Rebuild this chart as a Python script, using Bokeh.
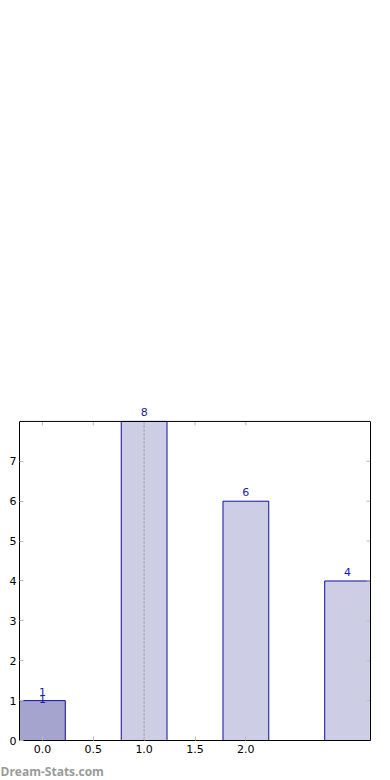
import math
from bokeh.plotting import figure
from bokeh.models import (ColumnDataSource, LabelSet, FixedTicker, LinearAxis, Span, Title,
                          Range1d, PrintfTickFormatter)
from bokeh.core.properties import value
from bokeh.embed import file_html
from bokeh.resources import INLINE

positions = [0, 1, 2, 3]
values = [1, 8, 6, 4]
labels = ["1", "8", "6", "4"]
fills = ["#a4a4cf", "#cdcde6", "#cdcde6", "#cdcde6"]
extra_pos = [0]
extra_val = [1]
extra_lab = ["1"]
x_ticks = [0.0, 0.5, 1.0, 1.5, 2.0]
y_ticks = [0, 1, 2, 3, 4, 5, 6, 7]
marker_x = 1.0
x_lo, x_hi = -0.225, 3.225
y_lo, y_hi = 0, 8

src = ColumnDataSource(dict(x=positions, top=values, lab=labels, fill=fills))
src2 = ColumnDataSource(dict(x=extra_pos, top=extra_val, lab=extra_lab))

p = figure(frame_width=351, frame_height=339,
           x_range=Range1d(x_lo, x_hi), y_range=Range1d(y_lo, 8.5),
           output_backend="svg", toolbar_location=None,
           min_border_left=19, min_border_top=401, min_border_right=6,
           min_border_bottom=40, outline_line_color=None)
p.xgrid.visible = False
p.ygrid.visible = False

p.vbar(x="x", top="top", bottom=0, width=0.45, fill_color="fill",
       line_color="#10109c", line_width=1, source=src)

# top edge of the box
p.add_layout(Span(location=y_hi, dimension="width", line_color="black", line_width=1))
# dotted marker
p.vbar(x=[marker_x], top=[y_hi], bottom=[y_lo], width=0, line_color="#aaaaaa",
       line_dash="2 2", line_width=1, fill_color=None)

# mirrored ticks (top & right), inward
p.ray(x=x_ticks, y=[y_hi] * len(x_ticks), length=4, length_units="screen",
      angle=-math.pi / 2, line_color="#bbbbbb", line_width=1)
p.ray(x=[x_hi] * len(y_ticks), y=y_ticks, length=4, length_units="screen",
      angle=math.pi, line_color="#bbbbbb", line_width=1)

lab_kw = dict(text_align="center", text_color="#1a1aaa", text_font_size="11px",
              text_font=value("DejaVu Sans"), level="overlay")
p.add_layout(LabelSet(x="x", y="top", text="lab", source=src, text_baseline="bottom",
                      y_offset=5, **lab_kw))
p.add_layout(LabelSet(x="x", y="top", text="lab", source=src2, text_baseline="middle",
                      y_offset=2, **lab_kw))

for ax in (p.xaxis[0], p.yaxis[0]):
    ax.major_tick_in = 4
    ax.major_tick_out = 0
    ax.minor_tick_line_color = None
    ax.major_tick_line_color = "#bbbbbb"
    ax.axis_line_color = "black"
    ax.major_label_text_font = "DejaVu Sans"
    ax.major_label_text_font_size = "11px"
    ax.major_label_text_color = "black"
p.xaxis[0].ticker = FixedTicker(ticks=x_ticks)
p.xaxis[0].formatter = PrintfTickFormatter(format="%.1f")
p.xaxis[0].major_label_standoff = 4
p.yaxis[0].ticker = FixedTicker(ticks=y_ticks)
p.yaxis[0].major_label_standoff = 3
p.yaxis[0].bounds = (y_lo, y_hi)

right_ax = LinearAxis(ticker=FixedTicker(ticks=[]), bounds=(y_lo, y_hi),
                      axis_line_color="black", minor_tick_line_color=None,
                      major_tick_line_color=None)
p.add_layout(right_ax, "right")

p.add_layout(Title(text="Dream-Stats.com", align="left", text_color="#9a9a9a",
                   text_font_size="12px", text_font="Open Sans", text_font_style="bold",
                   offset=-19), "below")

open("out.html", "w").write(file_html(p, INLINE))
